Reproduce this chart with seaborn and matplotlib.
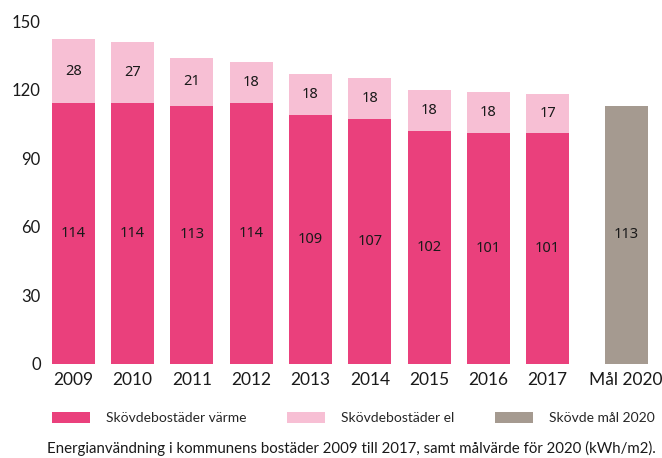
import matplotlib
matplotlib.use("Agg")
import matplotlib.pyplot as plt
import seaborn as sns
import numpy as np
import pandas as pd
from matplotlib.patches import Patch

# ================= data =================
years = ["2009", "2010", "2011", "2012", "2013", "2014", "2015", "2016", "2017"]
varme = [114, 114, 113, 114, 109, 107, 102, 101, 101]
el = [28, 27, 21, 18, 18, 18, 18, 18, 17]
goal_label = "Mål 2020"
goal_value = [113]

legend_labels = ["Skövdebostäder värme", "Skövdebostäder el", "Skövde mål 2020"]
caption = "Energianvändning i kommunens bostäder 2009 till 2017, samt målvärde för 2020 (kWh/m2)."
yticks = [0, 30, 60, 90, 120, 150]
# ========================================

C_VARME = "#EA407C"
C_EL = "#F7BFD4"
C_GOAL = "#A59A90"

sns.set_theme(style="white")
plt.rcParams["font.family"] = ["Lato", "DejaVu Sans"]

# numeric positions: goal bar sits a bit further to the right
pos = list(range(len(years)))
goal_pos = [len(years) - 1 + 1.32]

df = pd.DataFrame({"pos": pos, "varme": varme, "el": el})
df["total"] = df["varme"] + df["el"]
dg = pd.DataFrame({"pos": goal_pos, "val": goal_value})

fig = plt.figure(figsize=(6.62, 4.58), dpi=100)
ax = fig.add_axes([43.6 / 662, 94 / 458, (660.4 - 43.6) / 662, 343 / 458])

bw = 0.725
# stacked: total (el colour) first, then värme over it
sns.barplot(data=df, x="pos", y="total", native_scale=True, width=bw,
            color=C_EL, saturation=1, ax=ax)
sns.barplot(data=df, x="pos", y="varme", native_scale=True, width=bw,
            color=C_VARME, saturation=1, ax=ax)
ax.bar(dg["pos"], dg["val"], width=bw, color=C_GOAL, linewidth=0)

for p in ax.patches:
    p.set_linewidth(0)

# value labels
lab_kw = dict(ha="center", va="center", fontsize=10.5, color="#1a1a1a",
              family=["Noto Sans", "DejaVu Sans"])
for x, v, e in zip(pos, varme, el):
    ax.text(x, v / 2, str(v), **lab_kw)
    ax.text(x, v + e / 2, str(e), **lab_kw)
for x, v in zip(goal_pos, goal_value):
    ax.text(x, v / 2, str(v), **lab_kw)

ax.set_xlim(-0.5, 9.9)
ax.set_ylim(0, 150)
ax.set_yticks(yticks)
ax.set_yticklabels([str(t) for t in yticks], fontsize=12, color="#1a1a1a")
ax.set_xticks(pos + goal_pos)
ax.set_xticklabels(years + [goal_label], fontsize=12.5, color="#1a1a1a")
ax.tick_params(axis="both", length=0)
ax.tick_params(axis="x", pad=6)
ax.tick_params(axis="y", pad=2)
ax.set_xlabel("")
ax.set_ylabel("")
sns.despine(ax=ax, left=True, bottom=True)
ax.grid(False)

handles = [Patch(facecolor=c, edgecolor="none") for c in (C_VARME, C_EL, C_GOAL)]
fig.legend(handles, legend_labels, ncol=3, loc="center left",
           bbox_to_anchor=(52 / 662, 1 - 418 / 458), frameon=False,
           fontsize=10, handlelength=2.73, handleheight=0.8,
           handletextpad=1.15, columnspacing=2.95, borderpad=0,
           borderaxespad=0)

fig.text(351.5 / 662, 1 - 448 / 458, caption, ha="center", va="center",
         fontsize=10.8, color="#1a1a1a")

plt.savefig("out.png", dpi=100)
